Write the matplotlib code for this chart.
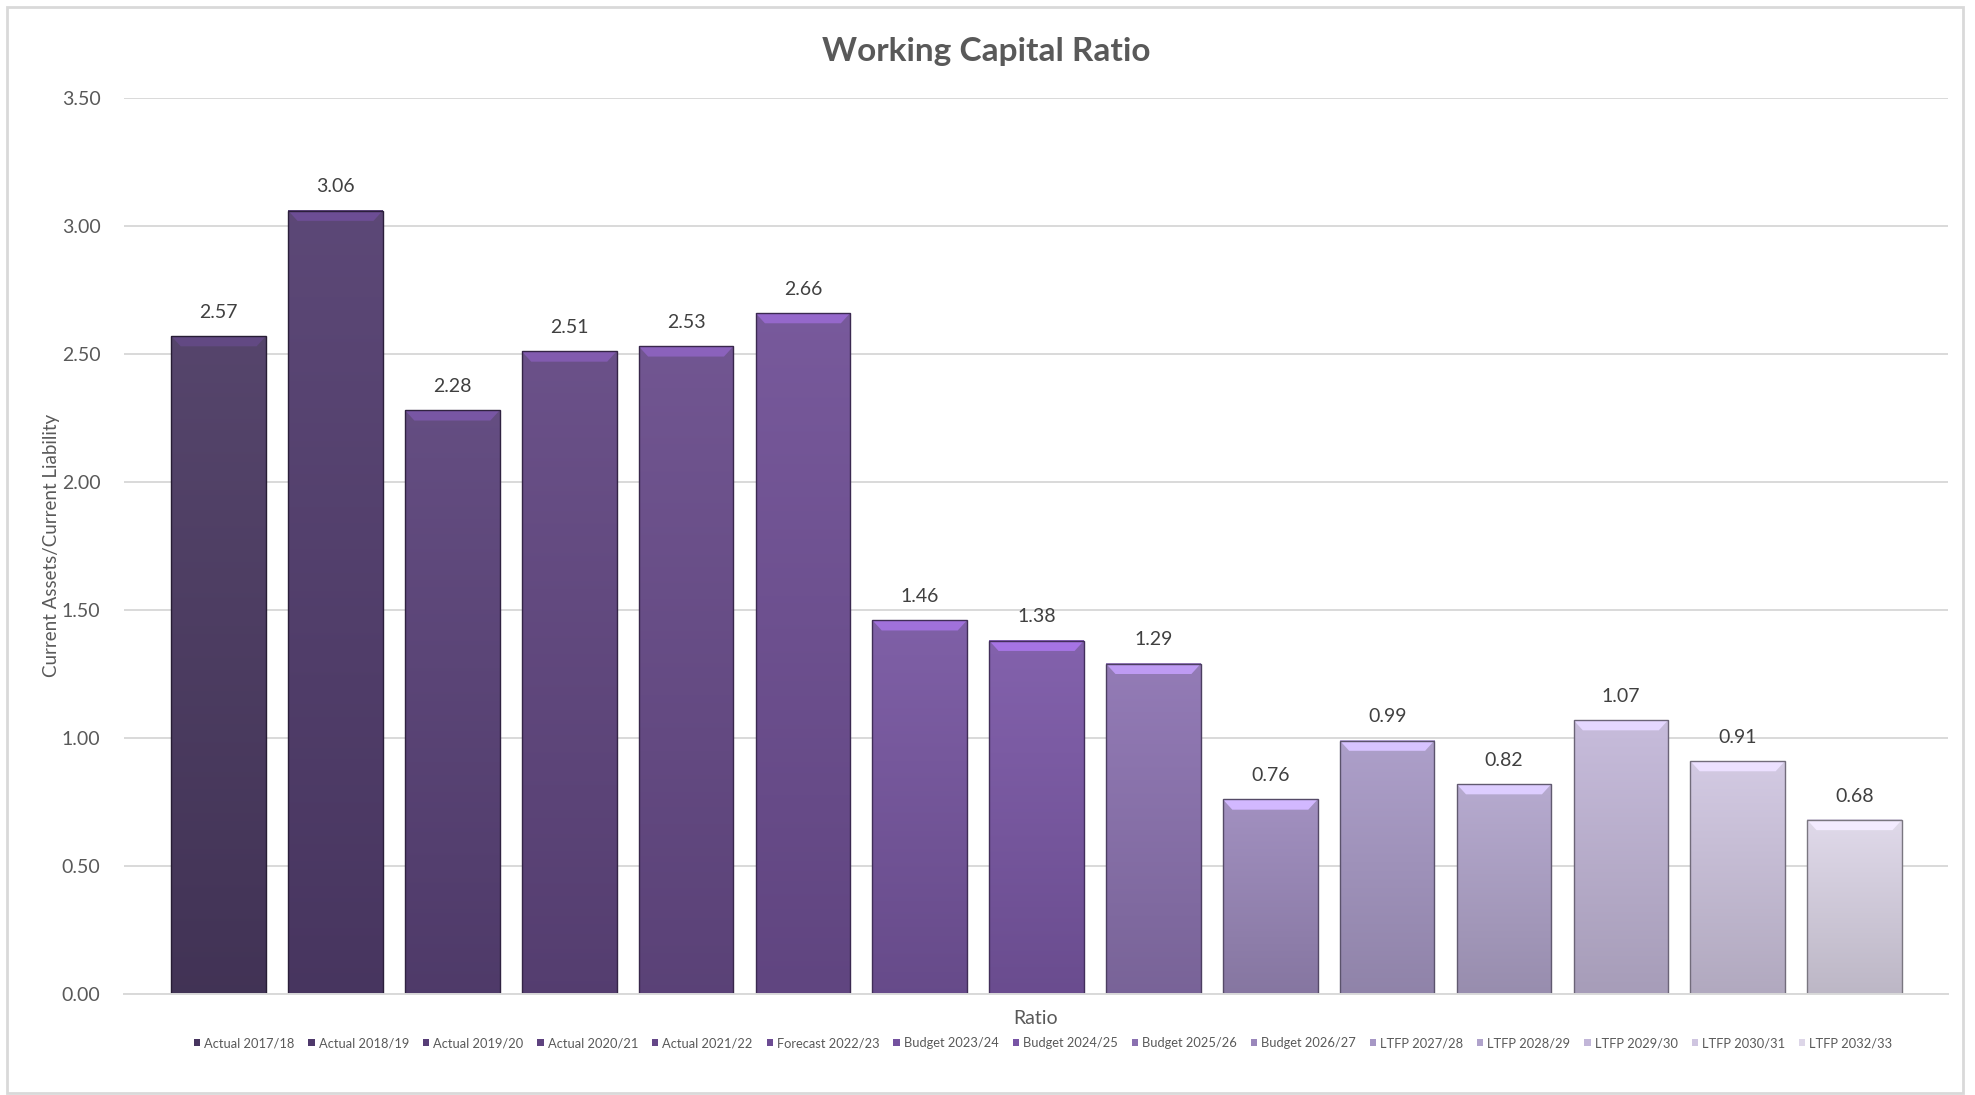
import matplotlib.pyplot as plt
import matplotlib.colors as mcolors
from matplotlib.patches import Polygon, Rectangle
import numpy as np

periods = ['Actual 2017/18', 'Actual 2018/19', 'Actual 2019/20', 'Actual 2020/21', 'Actual 2021/22',
           'Forecast 2022/23', 'Budget 2023/24', 'Budget 2024/25', 'Budget 2025/26', 'Budget 2026/27',
           'LTFP 2027/28', 'LTFP 2028/29', 'LTFP 2029/30', 'LTFP 2030/31', 'LTFP 2032/33']
ratios = [2.57, 3.06, 2.28, 2.51, 2.53, 2.66, 1.46, 1.38, 1.29, 0.76, 0.99, 0.82, 1.07, 0.91, 0.68]
bar_colours = ['#47355f', '#4e386b', '#573e77', '#5e427f', '#654788', '#6c4b93', '#74529f', '#7854a5',
               '#8a70b0', '#9a87bb', '#a697c5', '#b0a3cb', '#c2b6d8', '#cfc5e0', '#ddd6e8']

plt.rcParams['font.family'] = ['Lato', 'DejaVu Sans']

fig = plt.figure(figsize=(19.75, 10.95), dpi=100)
ax = fig.add_axes([124 / 1975, 1 - 994 / 1095, (1948 - 124) / 1975, (994 - 98) / 1095])

x = np.arange(len(ratios))
bar_width = 0.81

for i in range(len(ratios)):
  bar = ax.bar(x[i], ratios[i], width=bar_width, color=bar_colours[i], label=periods[i], zorder=2)[0]
  rgb = np.array(mcolors.to_rgb(bar_colours[i]))
  top = rgb + (1 - rgb) * 0.08
  bottom = rgb * 0.82 + 0.03
  t = np.linspace(0, 1, 64)[:, None]
  grad = (top * (1 - t) + bottom * t)[:, None, :]
  x0, w, h = bar.get_x(), bar.get_width(), bar.get_height()
  ax.imshow(grad, extent=(x0, x0 + w, 0, h), aspect='auto', origin='upper',
            interpolation='bilinear', zorder=2.1)
  # bevel on top of the bar: brighter, keeps the purple hue
  hsv = mcolors.rgb_to_hsv(rgb)
  hsv[2] = min(1.0, hsv[2] * 1.38)
  light = mcolors.hsv_to_rgb(hsv)
  ax.add_patch(Polygon([(x0, h), (x0 + w, h), (x0 + w - 0.08, h - 0.04), (x0 + 0.08, h - 0.04)],
                       closed=True, facecolor=light, edgecolor='none', zorder=2.2))
  ax.add_patch(Rectangle((x0, 0), w, h, fill=False, edgecolor=rgb * 0.55, linewidth=1.0, zorder=2.3))
  ax.annotate(f'{ratios[i]:.2f}', (x[i], h), xytext=(0, 11), textcoords='offset points',
              ha='center', va='bottom', fontsize=14, color='#404040')

ax.set_xlim(-0.81, 14.8)
ax.set_ylim(0, 3.5)
ax.set_yticks(np.arange(0, 3.51, 0.5))
ax.set_yticklabels([f'{v:.2f}' for v in np.arange(0, 3.51, 0.5)])
ax.set_xticks([])
ax.tick_params(axis='y', length=0, pad=17, labelsize=14, labelcolor='#595959')
ax.yaxis.grid(True, color='#d9d9d9', linewidth=1.4)
ax.set_axisbelow(True)
for side in ['top', 'right', 'left']:
  ax.spines[side].set_visible(False)
ax.spines['bottom'].set_color('#d9d9d9')
ax.spines['bottom'].set_linewidth(1.4)

fig.text(0.4995, 1 - 51 / 1095, 'Working Capital Ratio', ha='center', va='center',
         fontsize=24, fontweight='bold', color='#595959')
fig.text(52 / 1975, 1 - 545 / 1095, 'Current Assets/Current Liability', rotation=90,
         ha='center', va='center', fontsize=13.5, color='#595959')
fig.text(1036 / 1975, 1 - 1019 / 1095, 'Ratio', ha='center', va='center', fontsize=14, color='#595959')

fig.legend(loc='center', bbox_to_anchor=(1043 / 1975, 1 - 1043 / 1095), ncol=15, frameon=False,
           fontsize=9.3, handlelength=0.5, handleheight=0.5, handletextpad=0.3, columnspacing=1.08,
           labelcolor='#595959')

fig.patches.append(Rectangle((7 / 1975, 2 / 1095), 1956 / 1975, 1086 / 1095, transform=fig.transFigure,
                             fill=False, edgecolor='#d9d9d9', linewidth=2, zorder=0))

plt.savefig('out.png', dpi=100)
plt.close()
